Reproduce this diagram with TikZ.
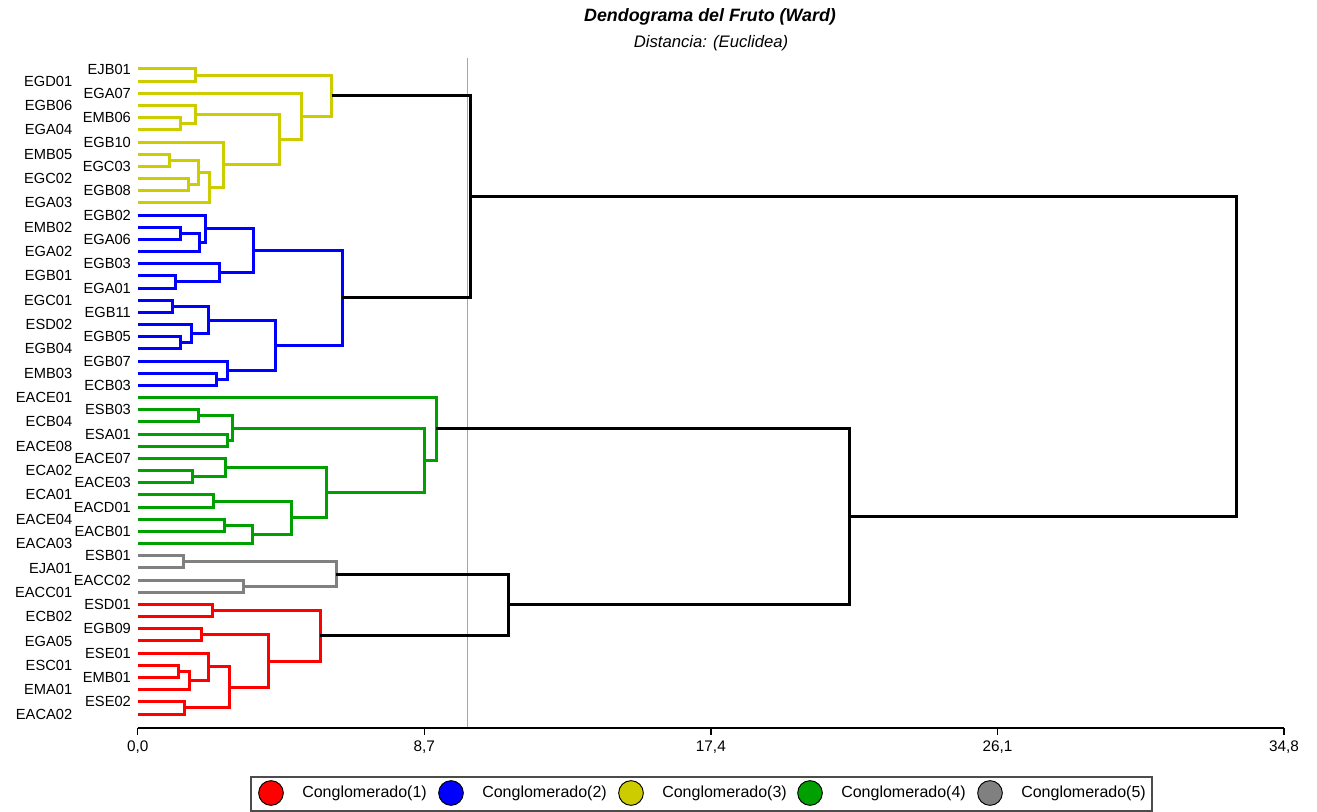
\documentclass[tikz,border=0pt]{standalone}
\usepackage{fontspec}
\setmainfont{Liberation Sans}
\definecolor{clus1}{RGB}{255,0,0}
\definecolor{clus2}{RGB}{0,0,255}
\definecolor{clus3}{RGB}{204,204,0}
\definecolor{clus4}{RGB}{0,160,0}
\definecolor{clus5}{RGB}{128,128,128}

\begin{document}
\begin{tikzpicture}[x=0.75pt,y=-0.75pt,
    branch/.style={line width=2.25pt},
    leaf label/.style={font=\fontsize{11}{13}\selectfont,inner sep=0pt,anchor=east},
    tick label/.style={font=\fontsize{11.5}{13}\selectfont,inner sep=0pt},
    legend dot/.style={circle,draw=black,line width=0.7pt,minimum size=18.5pt,inner sep=0pt},
    legend text/.style={font=\fontsize{12}{14}\selectfont,inner sep=0pt,anchor=west}]

  \useasboundingbox (0,0) rectangle (1317,812);

  % titles
  \node[font=\fontsize{13.4}{16}\selectfont\bfseries\itshape] (title) at (710,17) {Dendograma del Fruto (Ward)};
  \node[font=\fontsize{12.5}{14}\selectfont\itshape] (subtitle) at (711,43) {Distancia: (Euclidea)};

  \begin{scope}[shift={(103.28pt,-42.62pt)},x=24.705pt,y=-9.1275pt]
    % cut level
    \coordinate (cut top) at (10,0.1);
    \coordinate (cut bot) at (10,55.15);
    \draw[gray!70,line width=0.9pt] (cut top) -- (cut bot);

    % leaves
    \foreach \lab [count=\i] in {EJB01,EGD01,EGA07,EGB06,EMB06,EGA04,EGB10,EMB05,EGC03,EGC02,EGB08,EGA03,
        EGB02,EMB02,EGA06,EGA02,EGB03,EGB01,EGA01,EGC01,EGB11,ESD02,EGB05,EGB04,EGB07,EMB03,ECB03,
        EACE01,ESB03,ECB04,ESA01,EACE08,EACE07,ECA02,EACE03,ECA01,EACD01,EACE04,EACB01,EACA03,
        ESB01,EJA01,EACC02,EACC01,
        ESD01,ECB02,EGB09,EGA05,ESE01,ESC01,EMB01,EMA01,ESE02,EACA02} {
      \coordinate (l\i) at (0,\i);
      \ifodd\i
        \node[leaf label] (t\i) at (-0.2,\i) {\lab};
      \else
        \node[leaf label] (t\i) at (-1.98,\i) {\lab};
      \fi
    }

    % cluster 3
    \coordinate (y1) at (1.76,1.5);
    \coordinate (y2) at (1.31,5.5);
    \coordinate (y3) at (1.76,4.75);
    \coordinate (y4) at (0.95,8.5);
    \coordinate (y5) at (1.53,10.5);
    \coordinate (y6) at (1.86,9.5);
    \coordinate (y7) at (2.19,10.75);
    \coordinate (y8) at (2.61,8.875);
    \coordinate (y9) at (4.29,6.8125);
    \coordinate (y10) at (4.98,4.90625);
    \coordinate (y11) at (5.89,3.203125);
    \draw[branch,clus3] (l1) -| (y1) |- (l2);
    \draw[branch,clus3] (l5) -| (y2) |- (l6);
    \draw[branch,clus3] (l4) -| (y3) |- (y2);
    \draw[branch,clus3] (l8) -| (y4) |- (l9);
    \draw[branch,clus3] (l10) -| (y5) |- (l11);
    \draw[branch,clus3] (y4) -| (y6) |- (y5);
    \draw[branch,clus3] (y6) -| (y7) |- (l12);
    \draw[branch,clus3] (l7) -| (y8) |- (y7);
    \draw[branch,clus3] (y3) -| (y9) |- (y8);
    \draw[branch,clus3] (l3) -| (y10) |- (y9);
    \draw[branch,clus3] (y1) -| (y11) |- (y10);

    % cluster 2
    \coordinate (b1) at (1.31,14.5);
    \coordinate (b2) at (1.88,15.25);
    \coordinate (b3) at (2.07,14.125);
    \coordinate (b4) at (1.15,18.5);
    \coordinate (b5) at (2.47,17.75);
    \coordinate (b6) at (3.53,15.9375);
    \coordinate (b7) at (1.06,20.5);
    \coordinate (b8) at (1.31,23.5);
    \coordinate (b9) at (1.63,22.75);
    \coordinate (b10) at (2.14,21.625);
    \coordinate (b11) at (2.39,26.5);
    \coordinate (b12) at (2.73,25.75);
    \coordinate (b13) at (4.19,23.6875);
    \coordinate (b14) at (6.21,19.8125);
    \draw[branch,clus2] (l14) -| (b1) |- (l15);
    \draw[branch,clus2] (b1) -| (b2) |- (l16);
    \draw[branch,clus2] (l13) -| (b3) |- (b2);
    \draw[branch,clus2] (l18) -| (b4) |- (l19);
    \draw[branch,clus2] (l17) -| (b5) |- (b4);
    \draw[branch,clus2] (b3) -| (b6) |- (b5);
    \draw[branch,clus2] (l20) -| (b7) |- (l21);
    \draw[branch,clus2] (l23) -| (b8) |- (l24);
    \draw[branch,clus2] (l22) -| (b9) |- (b8);
    \draw[branch,clus2] (b7) -| (b10) |- (b9);
    \draw[branch,clus2] (l26) -| (b11) |- (l27);
    \draw[branch,clus2] (l25) -| (b12) |- (b11);
    \draw[branch,clus2] (b10) -| (b13) |- (b12);
    \draw[branch,clus2] (b6) -| (b14) |- (b13);

    % cluster 4
    \coordinate (g1) at (1.85,29.5);
    \coordinate (g2) at (2.73,31.5);
    \coordinate (g3) at (2.89,30.5);
    \coordinate (g4) at (1.67,34.5);
    \coordinate (g5) at (2.67,33.75);
    \coordinate (g6) at (2.29,36.5);
    \coordinate (g7) at (2.62,38.5);
    \coordinate (g8) at (3.49,39.25);
    \coordinate (g9) at (4.67,37.875);
    \coordinate (g10) at (5.74,35.8125);
    \coordinate (g11) at (8.70,33.15625);
    \coordinate (g12) at (9.06,30.578125);
    \draw[branch,clus4] (l29) -| (g1) |- (l30);
    \draw[branch,clus4] (l31) -| (g2) |- (l32);
    \draw[branch,clus4] (g1) -| (g3) |- (g2);
    \draw[branch,clus4] (l34) -| (g4) |- (l35);
    \draw[branch,clus4] (l33) -| (g5) |- (g4);
    \draw[branch,clus4] (l36) -| (g6) |- (l37);
    \draw[branch,clus4] (l38) -| (g7) |- (l39);
    \draw[branch,clus4] (g7) -| (g8) |- (l40);
    \draw[branch,clus4] (g6) -| (g9) |- (g8);
    \draw[branch,clus4] (g5) -| (g10) |- (g9);
    \draw[branch,clus4] (g3) -| (g11) |- (g10);
    \draw[branch,clus4] (l28) -| (g12) |- (g11);

    % cluster 5
    \coordinate (s1) at (1.38,41.5);
    \coordinate (s2) at (3.20,43.5);
    \coordinate (s3) at (6.02,42.5);
    \draw[branch,clus5] (l41) -| (s1) |- (l42);
    \draw[branch,clus5] (l43) -| (s2) |- (l44);
    \draw[branch,clus5] (s1) -| (s3) |- (s2);

    % cluster 1
    \coordinate (r1) at (2.26,45.5);
    \coordinate (r2) at (1.93,47.5);
    \coordinate (r3) at (1.23,50.5);
    \coordinate (r4) at (1.58,51.25);
    \coordinate (r5) at (2.14,50.125);
    \coordinate (r6) at (1.43,53.5);
    \coordinate (r7) at (2.78,51.8125);
    \coordinate (r8) at (3.96,49.65625);
    \coordinate (r9) at (5.54,47.578125);
    \draw[branch,clus1] (l45) -| (r1) |- (l46);
    \draw[branch,clus1] (l47) -| (r2) |- (l48);
    \draw[branch,clus1] (l50) -| (r3) |- (l51);
    \draw[branch,clus1] (r3) -| (r4) |- (l52);
    \draw[branch,clus1] (l49) -| (r5) |- (r4);
    \draw[branch,clus1] (l53) -| (r6) |- (l54);
    \draw[branch,clus1] (r5) -| (r7) |- (r6);
    \draw[branch,clus1] (r2) -| (r8) |- (r7);
    \draw[branch,clus1] (r1) -| (r9) |- (r8);

    % joins above the cut
    \coordinate (k1) at (10.10,11.5078);
    \coordinate (k2) at (11.25,45.039);
    \coordinate (k3) at (21.60,37.8086);
    \coordinate (k4) at (33.36,24.658);
    \draw[branch,black] (y11) -| (k1) |- (b14);
    \draw[branch,black] (s3) -| (k2) |- (r9);
    \draw[branch,black] (g12) -| (k3) |- (k2);
    \draw[branch,black] (k1) -| (k4) |- (k3);

    % axis
    \coordinate (ax start) at (0,55.15);
    \coordinate (ax end) at (34.8,55.15);
    \draw[line width=1.1pt] (ax start) -- (ax end);
    \foreach \v/\t [count=\j] in {0/{0,0},8.7/{8,7},17.4/{17,4},26.1/{26,1},34.8/{34,8}} {
      \coordinate (tk\j) at (\v,55.15);
      \draw[line width=1.1pt] (tk\j) -- ++(0,0.55);
      \node[tick label] (tl\j) at (\v,56.75) {\t};
    }
  \end{scope}

  % legend
  \draw[gray!60!black,line width=0.8pt] (251,777) rectangle (1152,811);
  \foreach \k/\cx in {1/271,2/451,3/631,4/810,5/990} {
    \node[legend dot,fill=clus\k] (dot\k) at (\cx,793) {};
    \node[legend text] (key\k) at (\cx+31,793) {Conglomerado(\k)};
  }
\end{tikzpicture}
\end{document}
